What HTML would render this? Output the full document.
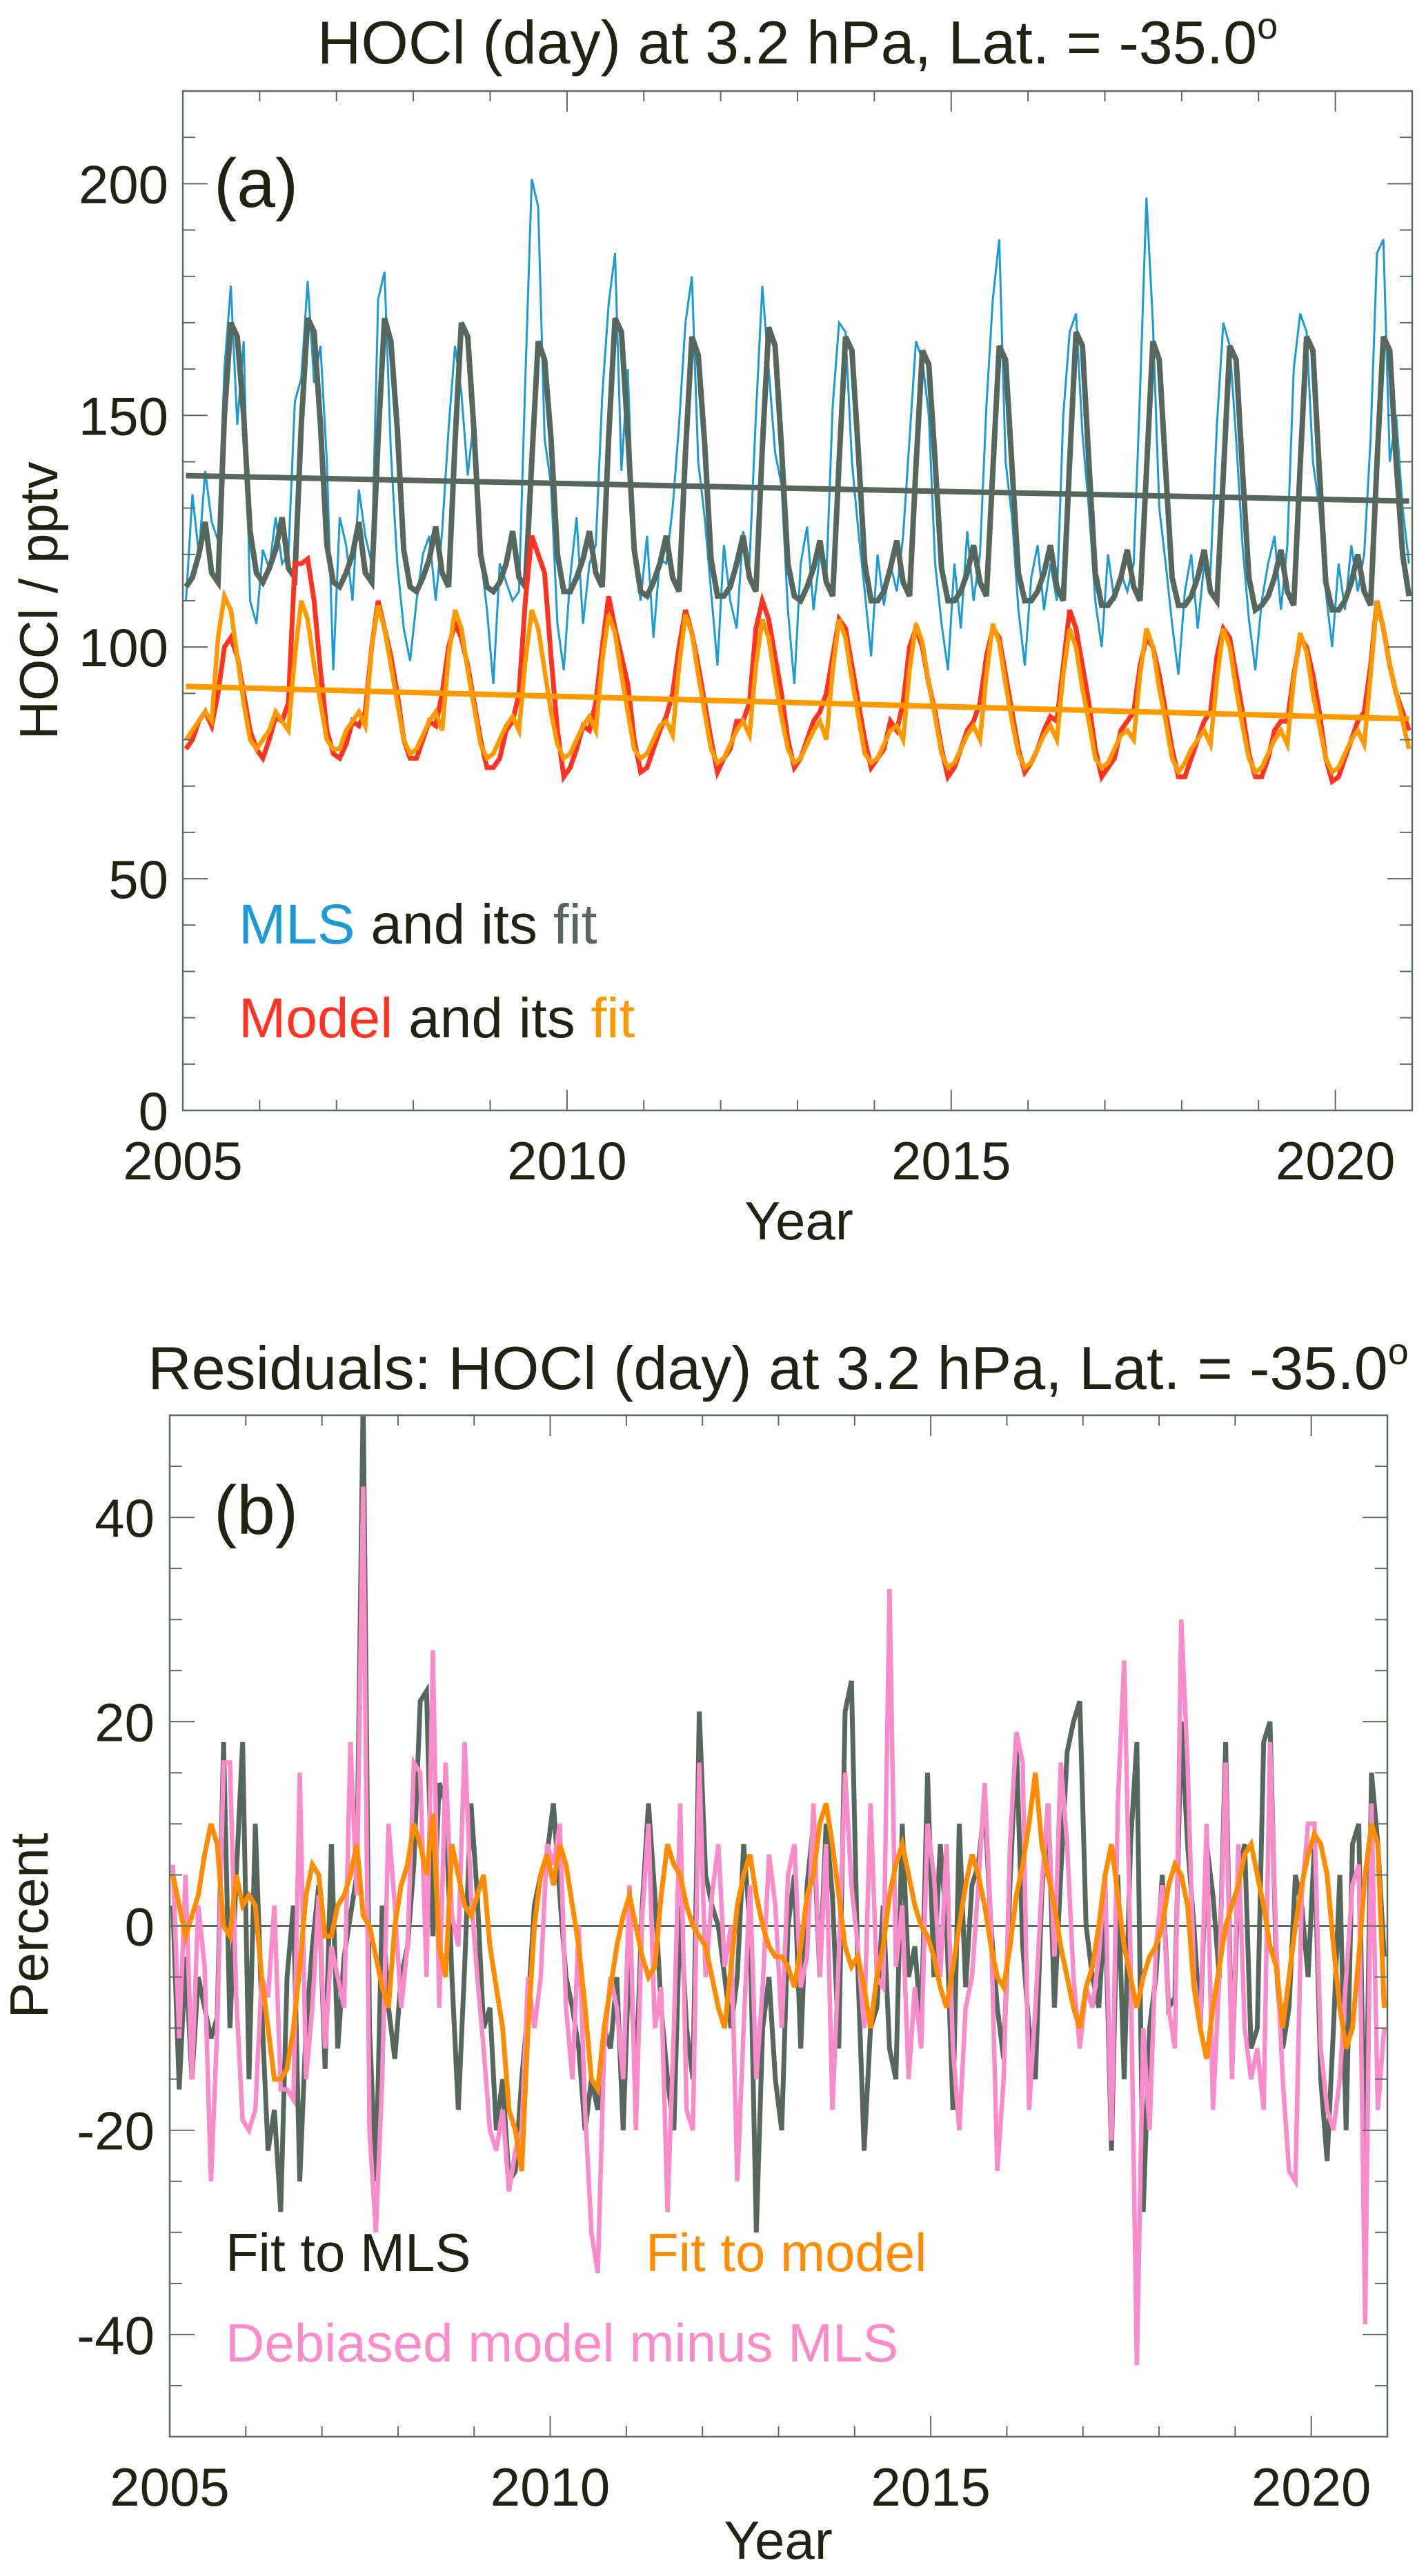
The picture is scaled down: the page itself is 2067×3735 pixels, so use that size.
<!DOCTYPE html>
<html><head><meta charset="utf-8"><title>HOCl MLS vs model</title>
<style>
html,body{margin:0;padding:0;background:#fff;}
svg{display:block;font-family:"Liberation Sans",Arial,sans-serif;}
.t{fill:#1f2410;}
</style></head>
<body>
<svg id="fig" xmlns="http://www.w3.org/2000/svg" width="2067" height="3735" viewBox="0 0 2067 3735">
<defs>
<clipPath id="clipA"><rect x="265" y="132" width="1782" height="1478"/></clipPath>
<clipPath id="clipB"><rect x="246" y="2052" width="1765" height="1481"/></clipPath>
</defs>
<rect width="2067" height="3735" fill="#fff"/>

<text class="t" x="1156" y="92" font-size="88" text-anchor="middle">HOCl (day) at 3.2 hPa, Lat. = -35.0<tspan font-size="54" dy="-36">o</tspan></text>
<text class="t" x="1128" y="2014" font-size="88" text-anchor="middle">Residuals: HOCl (day) at 3.2 hPa, Lat. = -35.0<tspan font-size="54" dy="-36">o</tspan></text>

<g id="panelA"></g>
<g id="panelB"></g>

<text class="t" x="310" y="300" font-size="100">(a)</text>
<text class="t" x="310" y="2224" font-size="100">(b)</text>

<text x="346" y="1368" font-size="82"><tspan fill="#1b9ad6">MLS</tspan><tspan fill="#1f2410"> and its </tspan><tspan fill="#56685e">fit</tspan></text>
<text x="346" y="1504" font-size="82"><tspan fill="#ff3322">Model</tspan><tspan fill="#1f2410"> and its </tspan><tspan fill="#ff9900">fit</tspan></text>

<text x="327" y="3293" font-size="78" fill="#1f2410">Fit to MLS</text>
<text x="936" y="3293" font-size="78" fill="#ff8c00">Fit to model</text>
<text x="327" y="3424" font-size="78" fill="#f98bcb">Debiased model minus MLS</text>

<text class="t" x="1158" y="1797" font-size="78" text-anchor="middle">Year</text>
<text class="t" x="1128" y="3710" font-size="78" text-anchor="middle">Year</text>
<text class="t" x="0" y="0" font-size="78" text-anchor="middle" transform="translate(83,871) rotate(-90)">HOCl / pptv</text>
<text class="t" x="0" y="0" font-size="78" text-anchor="middle" transform="translate(69,2792) rotate(-90)">Percent</text>
</svg>

<script>
// ---------- data ----------
const startYear = 2005;
const mlsData = [
110,133,120,138,127,123,160,178,148,166,110,105,
121,117,128,118,120,153,158,179,157,165,140,95,
128,122,110,134,124,118,175,181,142,118,104,97,
110,120,124,110,125,147,165,155,137,150,120,108,
92,118,114,110,112,158,201,195,145,135,105,95,
115,128,105,118,122,154,174,185,138,160,120,110,
124,102,119,118,130,148,170,180,140,128,112,96,
122,110,104,125,118,150,178,160,142,135,108,92,
118,126,108,120,115,152,170,168,140,125,112,98,
120,109,118,112,124,145,166,162,150,118,105,95,
118,104,125,110,120,152,175,188,140,128,108,96,
115,122,108,118,110,150,168,172,146,130,110,100,
120,110,116,112,118,155,197,170,130,118,105,94,
112,120,104,118,116,148,170,165,145,122,106,95,
110,118,124,108,122,160,172,168,140,130,112,100,
118,108,122,112,120,145,185,188,140,150,130,118];
const mlsFit = [
113,115,120,127,116,114,150,170,167,150,125,116,
114,117,121,128,117,115,148,171,168,148,122,114,
113,116,120,127,116,114,145,171,166,147,121,113,
112,115,119,126,116,113,144,170,167,146,120,113,
112,114,118,125,115,113,140,166,162,145,120,112,
112,115,119,125,116,113,145,171,168,146,121,112,
111,114,118,124,115,112,142,167,163,144,119,111,
111,113,118,124,115,112,143,169,165,143,118,111,
110,113,117,123,114,111,140,167,164,142,118,110,
110,112,117,123,114,111,139,164,161,140,117,110,
110,112,116,122,114,111,138,165,162,139,116,110,
110,112,116,122,113,110,140,168,165,140,116,109,
109,111,115,121,113,110,138,166,162,138,115,109,
109,111,115,121,112,110,137,165,162,138,115,108,
109,111,115,121,112,109,139,167,164,138,114,108,
108,110,114,120,112,109,140,167,164,140,120,111];
const modelData = [
78,80,84,86,83,90,100,102,98,90,82,78,
76,80,85,84,88,118,118,119,110,95,82,77,
76,79,84,83,86,100,110,104,98,90,80,76,
76,80,84,83,90,100,105,102,96,88,80,74,
74,76,82,84,90,110,124,120,116,98,82,72,
74,78,83,82,88,100,111,104,98,92,80,73,
74,78,82,85,90,100,108,103,96,88,80,73,
76,78,84,84,88,104,110,106,98,90,80,74,
76,80,84,86,90,98,106,104,96,88,80,74,
76,78,84,82,88,100,104,100,92,86,78,72,
74,78,82,84,88,98,104,102,94,86,78,73,
75,78,82,85,84,96,108,104,96,88,78,72,
74,76,82,84,86,96,102,100,94,86,78,72,
72,76,80,84,86,98,104,102,94,86,77,72,
72,76,82,84,84,94,102,100,94,86,76,71,
72,76,80,84,86,96,110,104,96,90,86,82];
const modelFit = [
80,82,84,86,84,102,111,108,98,88,80,78,
80,82,86,84,82,98,110,106,96,88,80,78,
78,82,84,86,83,100,109,104,96,88,80,77,
78,81,84,86,82,98,108,104,95,87,79,76,
77,80,83,85,82,97,108,104,95,86,79,76,
77,80,83,85,82,97,107,103,94,86,78,76,
77,80,83,84,81,96,107,103,94,86,78,75,
76,79,82,84,81,96,106,102,93,85,78,75,
76,79,82,84,80,95,106,102,93,85,77,75,
76,79,82,83,80,95,105,101,92,85,77,74,
75,78,81,83,80,94,105,101,92,84,77,74,
75,78,81,83,80,94,104,100,91,84,76,74,
75,78,81,82,80,94,104,100,91,84,76,73,
75,78,80,82,79,93,104,100,91,83,76,73,
74,77,80,82,79,93,103,99,90,83,76,73,
74,77,80,82,79,94,110,104,96,90,84,78];
const trendYears = [2005, 2021];
const mlsTrend = [137, 131.5];
const modelTrend = [91.5, 84.5];

const resMls = [
2,-16,-3,-15,-5,-8,-11,-9,18,-10,5,18,
-15,10,-8,-22,-18,-28,-5,2,-25,-10,-2,4,
-14,8,-12,-3,1,5,52,-10,-25,2,-8,-13,
-5,-2,6,22,23,-1,14,12,-5,-18,-4,12,
3,-10,-8,-20,-15,-25,-24,-15,-8,2,5,7,
12,3,-5,-8,-12,-20,-15,-18,-10,-12,-5,-20,
-2,-15,2,12,3,-8,-15,-20,2,-10,-15,21,
5,2,0,-5,-10,-5,8,0,-30,-10,-5,-15,
-20,0,5,-12,4,10,-5,10,3,-12,21,24,
-4,-22,-10,-8,2,-12,-15,10,-5,-2,-10,15,
-5,8,0,-18,10,-6,4,6,12,0,-8,-13,
4,18,-2,-10,-15,3,12,-8,5,17,20,22,
0,-5,-8,2,-22,5,-15,8,18,-28,-10,-5,
5,-8,-7,20,8,0,-10,8,3,-5,18,-14,
5,8,-12,-10,18,20,-4,-12,-8,5,2,-5,
8,-15,-23,-10,5,-20,8,10,-26,15,8,-3];
const resModel = [
5,2,-1,1,3,7,10,8,0,-1,5,2,
3,2,-5,-10,-15,-15,-14,-10,-4,3,6,5,
-1,-1,2,3,5,8,1,0,-3,-6,-8,0,
4,6,10,8,5,11,-2,-5,8,5,2,1,
3,5,-2,-6,-10,-18,-20,-24,-10,0,5,7,
4,8,6,2,-2,-8,-15,-16,-10,-6,-2,1,
3,0,-3,-5,-4,3,8,6,5,2,0,-1,
-2,-5,-8,-10,-4,2,5,7,3,0,-2,-3,
-3,-4,-6,-2,3,5,10,12,8,3,-2,-4,
-3,-6,-10,-5,-2,3,6,8,5,2,0,-1,
-3,-6,-8,-4,0,4,7,5,2,-2,-5,-6,
-2,3,6,10,15,8,5,2,-2,-5,-8,-10,
-6,-4,0,5,8,3,-2,-5,-8,-5,-3,-2,
0,4,6,5,2,-6,-10,-13,-8,-4,0,2,
4,7,8,5,2,-2,-4,-10,-5,0,4,7,
9,8,5,-2,-8,-12,-10,-3,5,10,8,-8];
const resDebiased = [
6,-11,5,-15,2,-4,-25,-10,16,16,-7,-19,
-20,-18,-5,-7,2,-16,-16,-17,15,-15,-8,3,
-12,-2,-5,-8,18,3,43,-20,-30,-15,10,2,
-8,-2,16,15,-5,27,-8,16,1,-2,18,3,
-5,-12,-20,-22,-18,-26,-22,-20,-5,-10,-5,8,
6,10,-8,-15,0,-18,-30,-34,-12,-5,-8,-15,
4,-20,1,10,-10,-6,-28,-10,12,-18,-20,16,
-5,3,8,-4,0,-25,-10,4,-15,-6,7,2,
-10,5,8,-6,-3,12,-5,8,-18,-3,15,4,
-2,-10,12,-5,-6,33,-4,2,-15,-6,-12,10,
5,-5,8,-12,-20,-8,-5,4,14,0,-24,-15,
8,19,16,-18,-8,4,12,-3,16,8,-5,-12,
-6,-8,-3,5,-21,12,26,-3,-43,-10,-20,-2,
4,-8,-12,30,16,-5,-10,10,-18,-5,16,-15,
8,-10,-15,-12,-18,18,-2,-15,-24,-25,3,10,
10,-12,-18,-20,-15,-5,4,6,-39,12,-18,-10];

const xTicksMajor = [2005, 2010, 2015, 2020];
const yTicksA = [0, 50, 100, 150, 200];
const yTicksB = [-40, -20, 0, 20, 40];

// ---------- axes ----------
const NS = 'http://www.w3.org/2000/svg';
const A = {x0:265, x1:2047, y0:132, y1:1610, tmin:2005, tmax:2021, vmin:0, vmax:220, minorV:10};
const B = {x0:246, x1:2011, y0:2052, y1:3533, tmin:2005, tmax:2021, vmin:-50, vmax:50, minorV:5};
function sx(P,t){ return P.x0 + (t-P.tmin)/(P.tmax-P.tmin)*(P.x1-P.x0); }
function sy(P,v){ return P.y1 - (v-P.vmin)/(P.vmax-P.vmin)*(P.y1-P.y0); }
function monthTime(i){ return startYear + (i+0.5)/12; }

function el(tag, parent){ const e=document.createElementNS(NS,tag); parent.appendChild(e); return e; }
function line(parent,x1,y1,x2,y2,w){
  const l=el('line',parent);
  l.setAttribute('x1',x1);l.setAttribute('y1',y1);l.setAttribute('x2',x2);l.setAttribute('y2',y2);
  l.setAttribute('stroke','#5c6b5c');l.setAttribute('stroke-width',w||2);
  return l;
}

function drawAxes(P, g, yTicks, labelRight, prefix){
  const frame=el('rect',g);
  frame.setAttribute('x',P.x0);frame.setAttribute('y',P.y0);
  frame.setAttribute('width',P.x1-P.x0);frame.setAttribute('height',P.y1-P.y0);
  frame.setAttribute('fill','none');frame.setAttribute('stroke','#5c6b5c');frame.setAttribute('stroke-width',2.5);
  
  
  for(let yr=P.tmin+1; yr<P.tmax; yr++){
    const major = xTicksMajor.indexOf(yr)>=0;
    const len = major?30:15;
    const x=sx(P,yr);
    const tb=line(g,x,P.y1,x,P.y1-len);
    
    
    const tt=line(g,x,P.y0,x,P.y0+len);
    
    
  }
  xTicksMajor.forEach(yr=>{
    const t=el('text',g);
    t.setAttribute('x',sx(P,yr));t.setAttribute('y',P.y1+100);
    t.setAttribute('font-size',78);t.setAttribute('text-anchor','middle');t.setAttribute('fill','#1f2410');
    t.textContent=String(yr);
    
    
  });
  for(let v=P.vmin+P.minorV; v<P.vmax; v+=P.minorV){
    const major = yTicks.indexOf(v)>=0;
    const len = major?36:18;
    const y=sy(P,v);
    const tl=line(g,P.x0,y,P.x0+len,y);
    
    
    const tr=line(g,P.x1,y,P.x1-len,y);
    
    
  }
  yTicks.forEach(v=>{
    const t=el('text',g);
    t.setAttribute('x',labelRight);t.setAttribute('y',sy(P,v)+28);
    t.setAttribute('font-size',78);t.setAttribute('text-anchor','end');t.setAttribute('fill','#1f2410');
    t.textContent=String(v);
    
    
  });
}

function series(P, g, vals, color, w, name, clip){
  const pts = vals.map((v,i)=> sx(P,monthTime(i)).toFixed(1)+','+sy(P,v).toFixed(1)).join(' ');
  const pl=el('polyline',g);
  pl.setAttribute('points',pts);pl.setAttribute('fill','none');
  pl.setAttribute('stroke',color);pl.setAttribute('stroke-width',w);
  pl.setAttribute('stroke-linejoin','miter');pl.setAttribute('clip-path','url(#'+clip+')');
  
  
  return pl;
}
function trend(P, g, vals, color, w, name, clip){
  const l=el('line',g);
  l.setAttribute('x1',sx(P,trendYears[0]+0.04));l.setAttribute('y1',sy(P,vals[0]));
  l.setAttribute('x2',sx(P,trendYears[1]-0.04));l.setAttribute('y2',sy(P,vals[1]));
  l.setAttribute('stroke',color);l.setAttribute('stroke-width',w);l.setAttribute('clip-path','url(#'+clip+')');
  
  
}

const gA=document.getElementById('panelA');
const gB=document.getElementById('panelB');

series(A,gA,mlsData,'#1b9ad6',3,'mls-data-line','clipA');
series(A,gA,mlsFit,'#56685e',8,'mls-fit-line','clipA');
trend(A,gA,mlsTrend,'#56685e',8,'mls-trend-line','clipA');
series(A,gA,modelData,'#ff3322',7,'model-data-line','clipA');
series(A,gA,modelFit,'#ff9900',6.5,'model-fit-line','clipA');
trend(A,gA,modelTrend,'#ff9900',8,'model-trend-line','clipA');
drawAxes(A,gA,yTicksA,244,'panel-a');

const zl=line(gB,B.x0,sy(B,0),B.x1,sy(B,0),2.5);
zl.setAttribute('stroke','#3a4a3a');


series(B,gB,resMls,'#56685e',7,'residual-fit-to-mls-line','clipB');
series(B,gB,resDebiased,'#f98bcb',6.5,'residual-debiased-line','clipB');
series(B,gB,resModel,'#ff8c00',7,'residual-fit-to-model-line','clipB');
drawAxes(B,gB,yTicksB,224,'panel-b');
</script>
</body></html>
